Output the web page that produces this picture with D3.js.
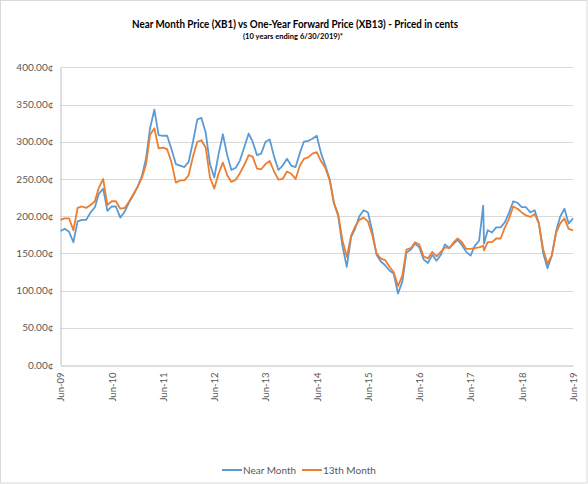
<!DOCTYPE html>
<html>
<head>
<meta charset="utf-8">
<script src="https://cdn.jsdelivr.net/npm/d3@7"></script>
<style>
  body { margin: 0; background: #fff; }
  text { font-family: Lato, "Open Sans", sans-serif; }
</style>
</head>
<body>
<script>
const w = 588;
const h = 484;

// monthly dates, Jun-09 .. Jun-19, plus the late Aug-17 one-day spike
const dates = [
  "2009-06-01","2009-07-01","2009-08-01","2009-09-01","2009-10-01","2009-11-01","2009-12-01",
  "2010-01-01","2010-02-01","2010-03-01","2010-04-01","2010-05-01","2010-06-01","2010-07-01",
  "2010-08-01","2010-09-01","2010-10-01","2010-11-01","2010-12-01","2011-01-01","2011-02-01",
  "2011-03-01","2011-04-01","2011-05-01","2011-06-01","2011-07-01","2011-08-01","2011-09-01",
  "2011-10-01","2011-11-01","2011-12-01","2012-01-01","2012-02-01","2012-03-01","2012-04-01",
  "2012-05-01","2012-06-01","2012-07-01","2012-08-01","2012-09-01","2012-10-01","2012-11-01",
  "2012-12-01","2013-01-01","2013-02-01","2013-03-01","2013-04-01","2013-05-01","2013-06-01",
  "2013-07-01","2013-08-01","2013-09-01","2013-10-01","2013-11-01","2013-12-01","2014-01-01",
  "2014-02-01","2014-03-01","2014-04-01","2014-05-01","2014-06-01","2014-07-01","2014-08-01",
  "2014-09-01","2014-10-01","2014-11-01","2014-12-01","2015-01-01","2015-02-01","2015-03-01",
  "2015-04-01","2015-05-01","2015-06-01","2015-07-01","2015-08-01","2015-09-01","2015-10-01",
  "2015-11-01","2015-12-01","2016-01-01","2016-02-01","2016-03-01","2016-04-01","2016-05-01",
  "2016-06-01","2016-07-01","2016-08-01","2016-09-01","2016-10-01","2016-11-01","2016-12-01",
  "2017-01-01","2017-02-01","2017-03-01","2017-04-01","2017-05-01","2017-06-01","2017-07-01",
  "2017-08-01","2017-08-30","2017-09-05","2017-10-01",
  "2017-11-01","2017-12-01","2018-01-01","2018-02-01","2018-03-01","2018-04-01","2018-05-01",
  "2018-06-01","2018-07-01","2018-08-01","2018-09-01","2018-10-01","2018-11-01","2018-12-01",
  "2019-01-01","2019-02-01","2019-03-01","2019-04-01","2019-05-01","2019-06-01"
];

// near month (XB1), cents
const nearMonth = [
  180,183,179,165,193,195,195,
  205,212,230,237,207,213,213,
  198,206,218,228,239,253,278,
  318,343,309,308,308,290,270,
  268,266,273,300,330,332,312,
  270,252,283,310,282,262,265,
  275,293,311,300,282,284,300,
  303,280,262,268,277,268,266,
  285,300,301,304,308,285,268,
  250,218,200,160,132,172,183,
  200,208,205,180,148,139,134,
  127,123,96,112,151,155,163,
  158,142,137,148,140,148,162,
  157,163,168,161,152,147,160,
  167,214,163,181,
  178,185,185,192,204,220,218,
  212,212,205,208,190,150,130,
  147,180,199,210,190,197
];

// 13th month (XB13), cents
const month13 = [
  195,197,197,181,211,213,211,
  215,220,238,250,215,220,220,
  210,211,219,229,239,251,270,
  309,318,291,292,290,272,245,
  248,248,255,280,300,302,292,
  252,237,257,272,255,246,249,
  258,269,282,280,264,263,270,
  274,260,249,250,260,257,250,
  268,277,279,284,286,274,265,
  248,218,202,168,145,174,186,
  195,198,193,175,150,143,141,
  132,125,106,120,155,157,165,
  162,146,143,152,146,152,158,
  157,165,170,165,156,156,157,
  158,160,154,165,
  165,170,170,185,196,213,210,
  205,201,199,203,190,155,136,
  147,178,190,197,183,181
];

const yTicks = [0, 50, 100, 150, 200, 250, 300, 350, 400];
const xTickYears = [2009, 2010, 2011, 2012, 2013, 2014, 2015, 2016, 2017, 2018, 2019];

const blue = '#5b9bd5';
const orange = '#ed7d31';

const parse = d3.timeParse('%Y-%m-%d');
const rows = dates.map((d, i) => ({date: parse(d), near: nearMonth[i], m13: month13[i]}));

const svg = d3.select('body').append('svg')
  .attr('width', w)
  .attr('height', h);

svg.append('rect')
  .attr('x', 0.5).attr('y', 0.5)
  .attr('width', w - 1.5).attr('height', h - 1.5)
  .attr('fill', '#fff')
  .attr('stroke', '#d9d9d9');

const plotL = 60.5, plotR = 573, plotT = 67.3, plotB = 365;

const x = d3.scaleTime()
  .domain([new Date(2009, 5, 1), new Date(2019, 5, 1)])
  .range([plotL, plotR]);

const y = d3.scaleLinear()
  .domain([0, 400])
  .range([plotB, plotT]);

// gridlines
svg.append('g')
  .selectAll('line')
  .data(yTicks.filter(d => d > 0))
  .enter()
  .append('line')
  .attr('x1', plotL).attr('x2', plotR)
  .attr('y1', d => Math.round(y(d)) + 0.5)
  .attr('y2', d => Math.round(y(d)) + 0.5)
  .attr('stroke', '#d9d9d9');

// y axis
const yAxis = svg.append('g')
  .attr('transform', `translate(${plotL},0)`)
  .call(d3.axisLeft(y).tickValues(yTicks).tickSize(0).tickPadding(7)
    .tickFormat(d => d3.format('.2f')(d) + '¢'));
yAxis.select('.domain').attr('stroke', '#bfbfbf');
yAxis.selectAll('text')
  .attr('font-size', '10px')
  .attr('fill', '#595959')
  .attr('font-family', 'Lato, sans-serif');

// x axis
const xAxis = svg.append('g')
  .attr('transform', `translate(0,${plotB + 0.5})`)
  .call(d3.axisBottom(x)
    .tickValues(xTickYears.map(yr => new Date(yr, 5, 1)))
    .tickSize(0)
    .tickFormat(d3.timeFormat('Jun-%y')));
xAxis.select('.domain').attr('stroke', '#bfbfbf');
xAxis.selectAll('text')
  .attr('font-size', '9.5px')
  .attr('fill', '#595959')
  .attr('font-family', 'Lato, sans-serif')
  .attr('text-anchor', 'end')
  .attr('transform', 'rotate(-90)')
  .attr('x', -7)
  .attr('y', 0)
  .attr('dy', '0.35em');

// lines
const lineNear = d3.line().x(d => x(d.date)).y(d => y(d.near));
const line13 = d3.line().x(d => x(d.date)).y(d => y(d.m13));

svg.append('path')
  .datum(rows)
  .attr('d', lineNear)
  .attr('fill', 'none')
  .attr('stroke', blue)
  .attr('stroke-width', 1.8)
  .attr('stroke-linejoin', 'round');

svg.append('path')
  .datum(rows)
  .attr('d', line13)
  .attr('fill', 'none')
  .attr('stroke', orange)
  .attr('stroke-width', 1.8)
  .attr('stroke-linejoin', 'round');

// titles
svg.append('text')
  .text('Near Month Price (XB1) vs One-Year Forward Price (XB13) - Priced in cents')
  .attr('x', 295).attr('y', 28)
  .attr('text-anchor', 'middle')
  .attr('font-size', '11.5px')
  .attr('font-weight', 'bold')
  .attr('fill', '#000')
  .attr('textLength', 326)
  .attr('lengthAdjust', 'spacingAndGlyphs');

svg.append('text')
  .text('(10 years ending  6/30/2019)*')
  .attr('x', 293).attr('y', 39)
  .attr('text-anchor', 'middle')
  .attr('font-size', '8px')
  .attr('font-weight', 'bold')
  .attr('fill', '#000')
  .attr('textLength', 100)
  .attr('lengthAdjust', 'spacingAndGlyphs');

// legend
const legend = [
  {name: 'Near Month', color: blue, x: 222},
  {name: '13th Month', color: orange, x: 302}
];
const lg = svg.selectAll('.lg')
  .data(legend)
  .enter()
  .append('g')
  .attr('transform', d => `translate(${d.x},470)`);
lg.append('line')
  .attr('x1', 0).attr('x2', 20)
  .attr('stroke', d => d.color)
  .attr('stroke-width', 2);
lg.append('text')
  .text(d => d.name)
  .attr('x', 21).attr('dy', '0.35em')
  .attr('font-size', '10px')
  .attr('fill', '#595959');
</script>
</body>
</html>
